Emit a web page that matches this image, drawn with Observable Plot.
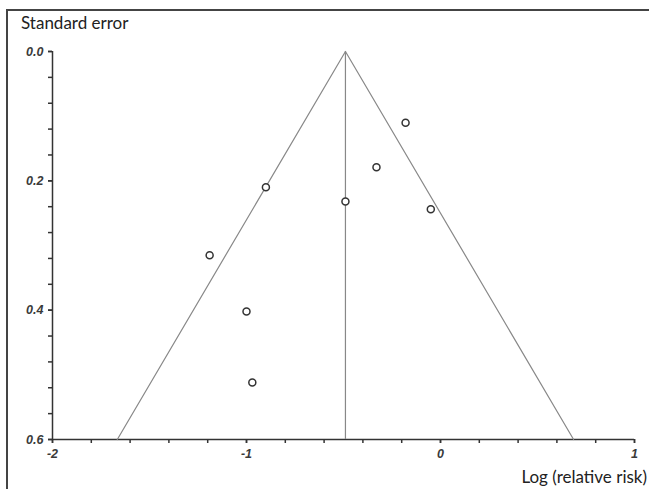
<!DOCTYPE html>
<html>
<head>
<meta charset="utf-8">
<script src="https://cdn.jsdelivr.net/npm/d3@7"></script>
<script src="https://cdn.jsdelivr.net/npm/@observablehq/plot@0.6"></script>
<style>
  html, body { margin: 0; padding: 0; background: #fff; overflow: hidden; }
  #wrap { position: relative; width: 649px; height: 489px; overflow: hidden; }
  #frame { position: absolute; left: 6px; top: 9px; width: 700px; height: 600px;
           border-left: 2px solid #444; border-top: 2px solid #444; }
  #chart { position: absolute; left: 0; top: 0; }
  .lbl { position: absolute; font-family: Lato, "Open Sans", sans-serif; font-size: 17px;
         color: #222; line-height: normal; white-space: nowrap; }
  #ylab { left: 21px; top: 12px; }
  #xlab { right: 2px; top: 466px; }
  svg g[aria-label$="tick label"], svg g[aria-label$="tick label"] text {
    font-style: italic; font-weight: bold; font-size: 12.5px !important;
  }
</style>
</head>
<body>
<div id="wrap">
  <div id="frame"></div>
  <div id="chart"></div>
  <div class="lbl" id="ylab">Standard error</div>
  <div class="lbl" id="xlab">Log (relative risk)</div>
</div>
<script>
// Study estimates (log relative risk) and their standard errors
const logRR = [-0.18, -0.33, -0.90, -0.49, -0.05, -1.19, -1.00, -0.97];
const se    = [0.110, 0.179, 0.210, 0.232, 0.244, 0.315, 0.402, 0.512];
// Pooled estimate and funnel extent
const pooled = -0.49;
const seMax = 0.6;
// Axis ticks
const xTicks = [-2, -1, 0, 1];
const xMinorTicks = d3.range(-2, 1.0001, 0.2);
const yTicks = [0, 0.2, 0.4, 0.6];
const yMinorTicks = d3.range(0, 0.6001, 0.04);

const studies = logRR.map((v, i) => ({x: v, y: se[i]}));
const funnel = [
  {x: pooled - 1.96 * seMax, y: seMax},
  {x: pooled, y: 0},
  {x: pooled + 1.96 * seMax, y: seMax}
];

const axisStyle = {stroke: "#333", strokeWidth: 1.5};
const tickText = {fill: "#3a3a3a", fontSize: 12.5, fontWeight: "bold", fontStyle: "italic"};

const chart = Plot.plot({
  width: 649,
  height: 489,
  marginLeft: 52,
  marginRight: 15,
  marginTop: 51,
  marginBottom: 50,
  style: {background: "transparent", fontFamily: "'Liberation Sans', Arial, sans-serif", fontSize: "12.5px"},
  x: {domain: [-2, 1]},
  y: {domain: [0, 0.6], reverse: true},
  marks: [
    Plot.axisX(xMinorTicks, {tickSize: 4, tickFormat: () => "", label: null, ...axisStyle}),
    Plot.axisX(xTicks, {tickSize: 4, tickPadding: 6, tickFormat: d => String(d), label: null, ...axisStyle, ...tickText}),
    Plot.axisY(yMinorTicks, {tickSize: 4, tickFormat: () => "", label: null, ...axisStyle}),
    Plot.axisY(yTicks, {tickSize: 4, tickPadding: 5, tickFormat: d3.format(".1f"), label: null, ...axisStyle, ...tickText}),
    Plot.ruleY([seMax], axisStyle),
    Plot.ruleX([-2], axisStyle),
    Plot.line(funnel, {x: "x", y: "y", stroke: "#888", strokeWidth: 1.2}),
    Plot.ruleX([pooled], {y1: 0, y2: seMax, stroke: "#888", strokeWidth: 1.2}),
    Plot.dot(studies, {x: "x", y: "y", r: 3.5, stroke: "#333", strokeWidth: 1.5, fill: "white"})
  ]
});
document.getElementById("chart").appendChild(chart);
</script>
</body>
</html>
